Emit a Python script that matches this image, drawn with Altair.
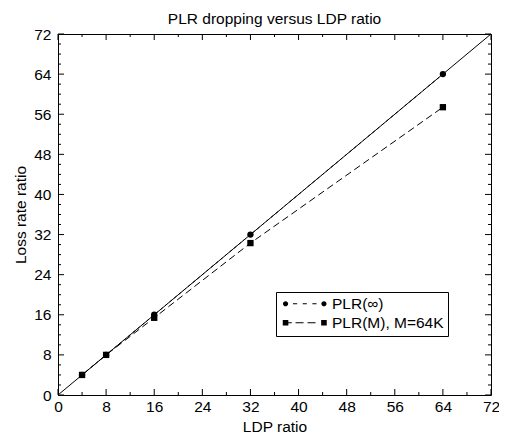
import altair as alt
import pandas as pd

# ---- data ----
ldp = [4, 8, 16, 32, 64]
plr_inf = [4, 8, 16, 32, 64]
plr_m = [4, 8, 15.4, 30.3, 57.4]
series_names = ["PLR(\u221e)", "PLR(M), M=64K"]
diag = [0, 72]
major_ticks = [0, 8, 16, 24, 32, 40, 48, 56, 64, 72]
x_minor = [4, 12, 20, 28, 36, 44, 52, 60, 68]
y_minor = [2, 4, 6, 10, 12, 14, 18, 20, 22, 26, 28, 30, 34, 36, 38, 42, 44, 46,
           50, 52, 54, 58, 60, 62, 66, 68, 70]

W, H = 433, 361
FONT = "Liberation Sans"
FS = 15.5

xscale = alt.Scale(domain=[0, 72], nice=False, zero=False)
yscale = alt.Scale(domain=[0, 72], nice=False, zero=False)
xaxis = alt.Axis(values=major_ticks, ticks=False, domain=False, grid=False,
                 title="LDP ratio", labelPadding=4, titlePadding=5, labelFlush=False)
yaxis = alt.Axis(values=major_ticks, ticks=False, domain=False, grid=False,
                 title="Loss rate ratio", labelPadding=7, titlePadding=5, labelFlush=False)


def X(f):
    return alt.X(f, type="quantitative", scale=xscale, axis=xaxis)


def Y(f):
    return alt.Y(f, type="quantitative", scale=yscale, axis=yaxis)


df_inf = pd.DataFrame({"x": ldp, "y": plr_inf})
df_m = pd.DataFrame({"x": ldp, "y": plr_m})
df_diag = pd.DataFrame({"x": diag, "y": diag})

diag_line = alt.Chart(df_diag).mark_line(color="black", strokeWidth=1).encode(x=X("x"), y=Y("y"))
line_inf = alt.Chart(df_inf).mark_line(color="black", strokeWidth=1, strokeDash=[3, 3]).encode(x=X("x"), y=Y("y"))
line_m = alt.Chart(df_m).mark_line(color="black", strokeWidth=1, strokeDash=[7, 4]).encode(x=X("x"), y=Y("y"))
pts_inf = alt.Chart(df_inf).mark_point(shape="circle", filled=True, size=40, color="black", opacity=1).encode(x=X("x"), y=Y("y"))
pts_m = alt.Chart(df_m).mark_point(shape="square", filled=True, size=40, color="black", opacity=1).encode(x=X("x"), y=Y("y"))


# ---- inward ticks on all four sides ----
def xticks(vals, at, length):
    off = -length / 2 if at == 0 else length / 2
    return alt.Chart(pd.DataFrame({"v": vals})).mark_tick(
        orient="vertical", size=length, thickness=1, color="black", yOffset=off, opacity=1
    ).encode(x=X("v"), y=alt.YDatum(at, type="quantitative", scale=yscale, axis=yaxis))


def yticks(vals, at, length):
    off = length / 2 if at == 0 else -length / 2
    return alt.Chart(pd.DataFrame({"v": vals})).mark_tick(
        orient="horizontal", size=length, thickness=1, color="black", xOffset=off, opacity=1
    ).encode(y=Y("v"), x=alt.XDatum(at, type="quantitative", scale=xscale, axis=xaxis))


tick_layers = [
    xticks(major_ticks, 0, 6), xticks(x_minor, 0, 3),
    xticks(major_ticks, 72, 6), xticks(x_minor, 72, 3),
    yticks(major_ticks, 0, 6), yticks(y_minor, 0, 3),
    yticks(major_ticks, 72, 6), yticks(y_minor, 72, 3),
]


# ---- legend with custom line+marker symbols ----
def circle(cx, r=1.3):
    return f"M{cx - r},0A{r},{r} 0 1,0 {cx + r},0A{r},{r} 0 1,0 {cx - r},0Z"


def rect(x0, x1, h=0.25):
    return f"M{x0},{-h}L{x1},{-h}L{x1},{h}L{x0},{h}Z"


def square(cx, a=1.4):
    return f"M{cx - a},{-a}L{cx + a},{-a}L{cx + a},{a}L{cx - a},{a}Z"


path_inf = circle(-9.6) + circle(9.6) + rect(-5.9, -3.8) + rect(-1.05, 1.05) + rect(3.8, 5.9)
path_m = square(-9.6) + square(9.6) + rect(-8.2, -6.5) + rect(-4.6, -0.6) + rect(1.4, 5.4)

df_leg = pd.DataFrame({"series": series_names, "x": [0, 0], "y": [0, 0]})
legend_layer = alt.Chart(df_leg).mark_point(filled=True, color="black").encode(
    x=X("x"), y=Y("y"),
    shape=alt.Shape("series:N",
                    scale=alt.Scale(domain=series_names, range=[path_inf, path_m]),
                    legend=alt.Legend(title=None, orient="none", legendX=218, legendY=258,
                                      symbolSize=16, symbolOffset=17, labelOffset=19.5,
                                      symbolFillColor="black", symbolStrokeWidth=0,
                                      symbolOpacity=1,
                                      strokeColor="black", fillColor="white", padding=4,
                                      rowPadding=2, labelFontSize=FS, labelFont=FONT,
                                      labelColor="black", cornerRadius=0)),
).transform_filter("false")

chart = alt.layer(
    *tick_layers, diag_line, line_inf, line_m, pts_inf, pts_m, legend_layer
).properties(
    width=W, height=H,
    title=alt.TitleParams("PLR dropping versus LDP ratio", fontSize=FS, fontWeight="normal",
                          font=FONT, color="black", offset=0, anchor="middle", frame="group"),
    autosize=alt.AutoSizeParams(type="none"),
    padding={"left": 50, "top": 26, "right": 8, "bottom": 41},
).configure_view(stroke="black", strokeWidth=1).configure_axis(
    labelFont=FONT, titleFont=FONT, labelFontSize=FS, titleFontSize=FS,
    titleFontWeight="normal", labelColor="black", titleColor="black",
)

chart.save("out.html", embed_options={"renderer": "svg", "actions": False})
